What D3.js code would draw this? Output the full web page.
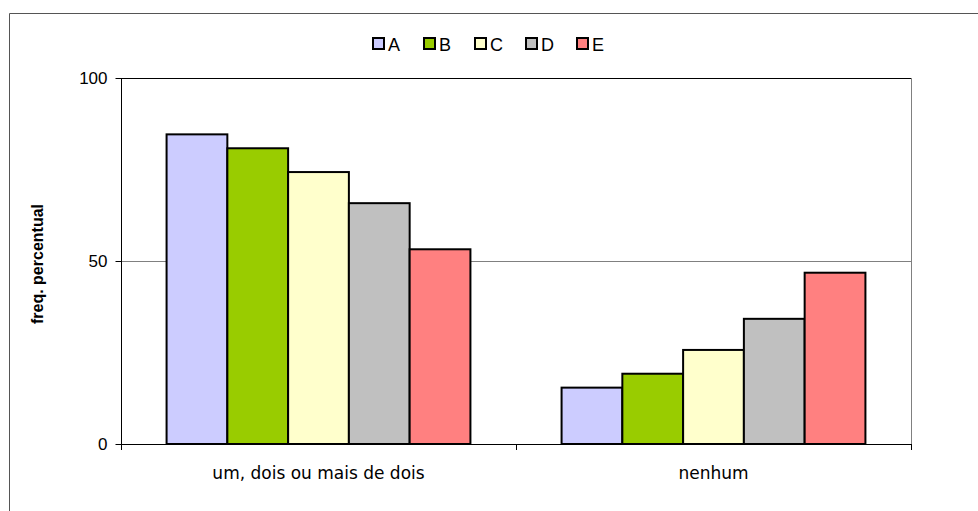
<!DOCTYPE html>
<html>
<head>
<meta charset="utf-8">
<script src="https://cdn.jsdelivr.net/npm/d3@7"></script>
<style>
  body { margin: 0; background: #fff; }
  svg { display: block; }
</style>
</head>
<body>
<div id="canvas"></div>
<script>
var categories = ["um, dois ou mais de dois", "nenhum"];
var seriesNames = ["A", "B", "C", "D", "E"];
var seriesColors = ["#ccccff", "#99cc00", "#ffffcc", "#c0c0c0", "#ff8080"];
var valuesA = [84.6, 15.4];
var valuesB = [80.8, 19.2];
var valuesC = [74.3, 25.7];
var valuesD = [65.8, 34.2];
var valuesE = [53.2, 46.8];
var yTicks = [0, 50, 100];

var allValues = [valuesA, valuesB, valuesC, valuesD, valuesE];

var w = 978, h = 511;
var plotLeft = 121, plotRight = 911, plotTop = 78, plotBottom = 444;

var svg = d3.select("#canvas").append("svg")
    .attr("width", w)
    .attr("height", h);

// outer chart frame
svg.append("path")
    .attr("d", "M9.5," + (h + 2) + " V13.5 H" + (w + 2))
    .attr("fill", "none")
    .attr("stroke", "#555")
    .attr("stroke-width", 1);

var x0 = d3.scaleBand().domain(categories).range([plotLeft, plotRight]).padding(0);
// Excel gap width 150%: 5 bars + 1.5 bar widths per category
var barW = x0.bandwidth() / 6.5;
var x1 = d3.scaleBand().domain(seriesNames)
    .range([barW * 0.75, barW * 0.75 + barW * 5]).padding(0);
var y = d3.scaleLinear().domain([0, 100]).range([plotBottom, plotTop]);

// gridline at 50
svg.append("line")
    .attr("x1", plotLeft).attr("x2", plotRight)
    .attr("y1", Math.round(y(50)) + 0.5).attr("y2", Math.round(y(50)) + 0.5)
    .attr("stroke", "#808080");

// plot area top and right border
svg.append("path")
    .attr("d", "M" + plotLeft + "," + (plotTop + 0.5) + " H" + (plotRight + 0.5))
    .attr("stroke", "#000").attr("fill", "none");
svg.append("path")
    .attr("d", "M" + (plotRight + 0.5) + "," + plotTop + " V" + plotBottom)
    .attr("stroke", "#808080").attr("fill", "none");

// bars
var rows = [];
categories.forEach(function (c, ci) {
    seriesNames.forEach(function (s, si) {
        rows.push({ cat: c, name: s, value: allValues[si][ci], color: seriesColors[si] });
    });
});

svg.append("g").selectAll("rect")
    .data(rows)
    .join("rect")
    .attr("x", function (d) { return x0(d.cat) + x1(d.name); })
    .attr("y", function (d) { return y(d.value); })
    .attr("width", x1.bandwidth())
    .attr("height", function (d) { return plotBottom - y(d.value); })
    .attr("fill", function (d) { return d.color; })
    .attr("stroke", "#000")
    .attr("stroke-width", 2);

// y axis
var yAxis = svg.append("g")
    .attr("transform", "translate(" + (plotLeft + 0.5) + ",0)")
    .call(d3.axisLeft(y).tickValues(yTicks).tickSize(6).tickPadding(8).tickFormat(d3.format("d")));
yAxis.select(".domain").attr("stroke", "#000").attr("d", "M0," + plotTop + " V" + plotBottom);
yAxis.selectAll(".tick line").attr("stroke", "#000");
yAxis.selectAll("text")
    .attr("font-family", "'Liberation Sans', Arial, sans-serif")
    .attr("font-size", "17px")
    .attr("fill", "#000");

// x axis
var xAxis = svg.append("g")
    .attr("transform", "translate(0," + (plotBottom + 0.5) + ")")
    .call(d3.axisBottom(x0).tickSize(0).tickPadding(22));
xAxis.select(".domain").attr("stroke", "#000").attr("d", "M" + plotLeft + ",0 H" + plotRight);
xAxis.selectAll("text")
    .attr("font-family", "'DejaVu Sans', sans-serif")
    .attr("font-size", "17px")
    .attr("fill", "#000");
var xTicks = [plotLeft, (plotLeft + plotRight) / 2, plotRight];
svg.append("g").selectAll("line")
    .data(xTicks)
    .join("line")
    .attr("x1", function (d) { return Math.round(d) + 0.5; })
    .attr("x2", function (d) { return Math.round(d) + 0.5; })
    .attr("y1", plotBottom)
    .attr("y2", plotBottom + 6)
    .attr("stroke", "#000");

// y title
svg.append("text")
    .attr("transform", "translate(43,264) rotate(-90)")
    .attr("text-anchor", "middle")
    .attr("font-family", "'Liberation Sans', Arial, sans-serif")
    .attr("font-size", "16px")
    .attr("font-weight", "bold")
    .text("freq. percentual");

// legend
var legend = svg.append("g").selectAll("g")
    .data(seriesNames)
    .join("g")
    .attr("transform", function (d, i) { return "translate(" + (373 + i * 51) + ",38)"; });
legend.append("rect")
    .attr("width", 11).attr("height", 11)
    .attr("fill", function (d, i) { return seriesColors[i]; })
    .attr("stroke", "#000")
    .attr("stroke-width", 2);
legend.append("text")
    .attr("x", 15)
    .attr("y", 13)
    .attr("font-family", "'Liberation Sans', Arial, sans-serif")
    .attr("font-size", "18px")
    .text(function (d) { return d; });
</script>
</body>
</html>
